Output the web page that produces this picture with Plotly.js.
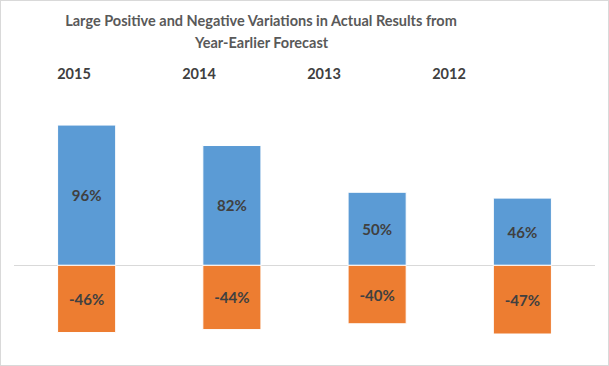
<!DOCTYPE html>
<html>
<head>
<meta charset="utf-8">
<script src="https://cdn.plot.ly/plotly-3.0.1.min.js"></script>
<style>
html,body{margin:0;padding:0;background:#fff;}
#wrap{position:relative;width:609px;height:366px;}
#chart{width:609px;height:366px;}
#frame{position:absolute;left:0;top:0;width:607px;height:364px;border:1px solid #d9d9d9;pointer-events:none;}
</style>
</head>
<body>
<div id="wrap"><div id="chart"></div><div id="frame"></div></div>
<script>
const years = ["2015", "2014", "2013", "2012"];
const positive = [96, 82, 50, 46];
const negative = [-46, -44, -40, -47];
const titleLine1 = 'Large Positive and Negative Variations in Actual Results from';
const titleLine2 = 'Year-Earlier Forecast';

const fontFam = 'Lato, "Open Sans", sans-serif';
const labelFont = {family: fontFam, size: 15, color: '#404040', weight: 'bold'};

const traces = [
  {
    type: 'bar', x: years, y: positive, name: 'Positive',
    marker: {color: '#5B9BD5', line: {color: '#ffffff', width: 1}},
    text: positive.map(v => v + '%'), textposition: 'inside', insidetextanchor: 'middle',
    textfont: labelFont, hoverinfo: 'skip', cliponaxis: false
  },
  {
    type: 'bar', x: years, y: negative, name: 'Negative',
    marker: {color: '#ED7D31', line: {color: '#ffffff', width: 1}},
    text: negative.map(v => v + '%'), textposition: 'inside', insidetextanchor: 'middle',
    textfont: labelFont, hoverinfo: 'skip', cliponaxis: false
  },
  {
    type: 'scatter', mode: 'markers', x: [0, 1, 2, 3], y: [0, 0, 0, 0],
    xaxis: 'x2', yaxis: 'y', marker: {opacity: 0}, hoverinfo: 'skip', showlegend: false
  }
];

const titleFont = {family: fontFam, size: 14.5, color: '#595959', weight: 'bold'};

const layout = {
  width: 609, height: 366,
  margin: {l: 14, r: 14, t: 90, b: 13, pad: 0},
  paper_bgcolor: '#ffffff', plot_bgcolor: '#ffffff',
  showlegend: false,
  barmode: 'relative',
  bargap: 0.6,
  title: {
    text: titleLine1,
    font: titleFont,
    x: 261 / 609, xanchor: 'center', xref: 'container',
    y: 1 - 21 / 366, yanchor: 'middle', yref: 'container'
  },
  annotations: [{
    text: titleLine2, font: titleFont, showarrow: false,
    xref: 'paper', yref: 'paper',
    x: (261 - 14) / 581, xanchor: 'center',
    y: 1 + (90 - 43) / 263, yanchor: 'middle'
  }],
  xaxis: {
    type: 'category', showticklabels: false, showgrid: false, zeroline: false,
    showline: false, ticks: '', range: [-0.5, 3.5]
  },
  xaxis2: {
    overlaying: 'x', side: 'top', type: 'linear', range: [-0.48, 4.168],
    tickmode: 'array', tickvals: [0, 1, 2, 3], ticktext: years,
    ticks: 'outside', ticklen: 4, tickcolor: 'rgba(0,0,0,0)',
    showgrid: false, zeroline: false, showline: false,
    tickfont: {family: fontFam, size: 14.5, color: '#404040', weight: 'bold'}
  },
  yaxis: {
    range: [-60, 120], showticklabels: false, showgrid: false,
    zeroline: true, zerolinecolor: '#d9d9d9', zerolinewidth: 1, ticks: ''
  }
};

Plotly.newPlot('chart', traces, layout, {displayModeBar: false, staticPlot: true});
</script>
</body>
</html>
